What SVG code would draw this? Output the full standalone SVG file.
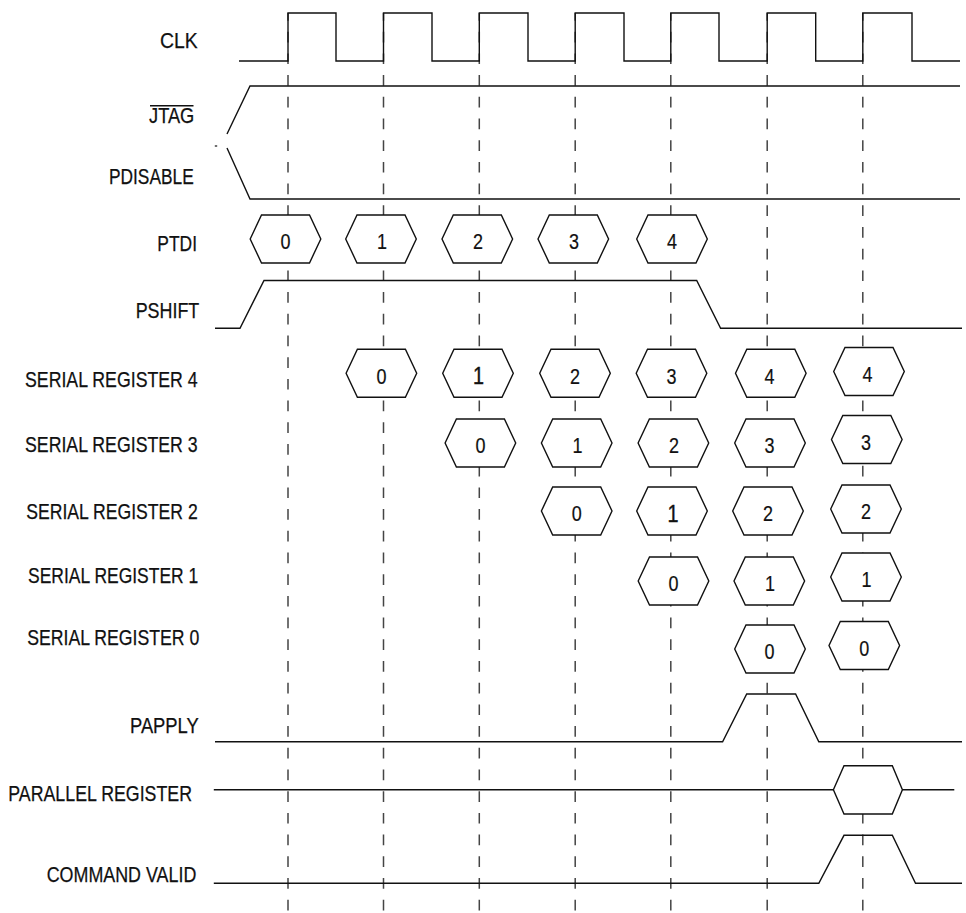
<svg xmlns="http://www.w3.org/2000/svg" width="966" height="913" viewBox="0 0 966 913">
<style>
  .bg { fill: #ffffff; }
  .lbl { font-family: "Liberation Sans", Arial, sans-serif; font-size: 21.5px; fill: #111; stroke: #111; stroke-width: 0.25; }
  .dig { font-family: "Liberation Sans", Arial, sans-serif; font-size: 21.5px; fill: #111; stroke: #111; stroke-width: 0.2; text-anchor: middle; }
  .big { font-size: 23px; stroke-width: 0.4; }
  .wave { fill: none; stroke: #111; stroke-width: 1.4; stroke-linejoin: miter; }
  .hex { fill: #ffffff; stroke: #111; stroke-width: 1.4; }
  .guide { stroke: #444; stroke-width: 1.5; stroke-dasharray: 10.7 11; stroke-dashoffset: 3; }
</style>
<defs>
  <polygon id="hx" points="-35.3,0 -24,-24 24,-24 35.3,0 24,24 -24,24"/>
</defs>
<rect class="bg" x="0" y="0" width="966" height="913"/>

<g id="connectors">
  <line class="guide" x1="288" y1="13" x2="288" y2="913"/>
  <line class="guide" x1="383.5" y1="13" x2="383.5" y2="913"/>
  <line class="guide" x1="479.3" y1="13" x2="479.3" y2="913"/>
  <line class="guide" x1="575.2" y1="13" x2="575.2" y2="913"/>
  <line class="guide" x1="670.8" y1="13" x2="670.8" y2="913"/>
  <line class="guide" x1="767.2" y1="13" x2="767.2" y2="913"/>
  <line class="guide" x1="862.8" y1="13" x2="862.8" y2="913"/>
</g>

<g id="clk">
  <text class="lbl" x="160" y="47.7" textLength="37.7" lengthAdjust="spacingAndGlyphs">CLK</text>
  <path class="wave" d="M239,61 H288 V13 H336 V61 H383.5 V13 H432 V61 H479.3 V13 H528 V61 H575.2 V13 H624 V61 H670.8 V13 H719 V61 H767.2 V13 H815.7 V61 H862.8 V13 H912 V61 H960"/>
</g>

<g id="jtag">
  <text class="lbl" x="149" y="123.3" textLength="45.3" lengthAdjust="spacingAndGlyphs">JTAG</text>
  <line x1="150" y1="105.7" x2="193.5" y2="105.7" stroke="#111" stroke-width="1.4"/>
  <path class="wave" d="M227,134 L250,86 H960"/>
</g>

<g id="pdisable">
  <text class="lbl" x="109" y="184.3" textLength="84.7" lengthAdjust="spacingAndGlyphs">PDISABLE</text>
  <path class="wave" d="M227,148 L250,199 H960"/>
  <line x1="214.8" y1="146" x2="217.2" y2="146" stroke="#111" stroke-width="1.2"/>
</g>

<g id="ptdi">
  <text class="lbl" x="157.3" y="250.7" textLength="39.7" lengthAdjust="spacingAndGlyphs">PTDI</text>
  <use href="#hx" class="hex" x="285.5" y="239"/>
  <use href="#hx" class="hex" x="381" y="239"/>
  <use href="#hx" class="hex" x="477.3" y="239"/>
  <use href="#hx" class="hex" x="573.3" y="239"/>
  <use href="#hx" class="hex" x="672" y="239"/>
  <text class="dig" x="285.5" y="249.3" textLength="10" lengthAdjust="spacingAndGlyphs">0</text>
  <text class="dig" x="382" y="249.3" textLength="10" lengthAdjust="spacingAndGlyphs">1</text>
  <text class="dig" x="478" y="249.3" textLength="10" lengthAdjust="spacingAndGlyphs">2</text>
  <text class="dig" x="574" y="249.3" textLength="10" lengthAdjust="spacingAndGlyphs">3</text>
  <text class="dig" x="672" y="249.3" textLength="10" lengthAdjust="spacingAndGlyphs">4</text>
</g>

<g id="pshift">
  <text class="lbl" x="135.7" y="317.7" textLength="63.6" lengthAdjust="spacingAndGlyphs">PSHIFT</text>
  <path class="wave" d="M215,328.3 H240 L264,280.5 H696.7 L720.6,328.3 H962"/>
</g>

<g id="sr4">
  <text class="lbl" x="25" y="386.7" textLength="172.7" lengthAdjust="spacingAndGlyphs">SERIAL REGISTER 4</text>
  <use href="#hx" class="hex" x="381.4" y="373.3"/>
  <use href="#hx" class="hex" x="478" y="373.3"/>
  <use href="#hx" class="hex" x="575" y="373.3"/>
  <use href="#hx" class="hex" x="671.5" y="373.3"/>
  <use href="#hx" class="hex" x="770.8" y="373.3"/>
  <use href="#hx" class="hex" x="869" y="371.5"/>
  <text class="dig" x="381.4" y="383.6" textLength="10" lengthAdjust="spacingAndGlyphs">0</text>
  <text class="dig big" x="478.5" y="384.2" textLength="11" lengthAdjust="spacingAndGlyphs">1</text>
  <text class="dig" x="575" y="383.6" textLength="10" lengthAdjust="spacingAndGlyphs">2</text>
  <text class="dig" x="671.5" y="383.6" textLength="10" lengthAdjust="spacingAndGlyphs">3</text>
  <text class="dig" x="769.5" y="383.6" textLength="10" lengthAdjust="spacingAndGlyphs">4</text>
  <text class="dig" x="867.5" y="381.8" textLength="10" lengthAdjust="spacingAndGlyphs">4</text>
</g>

<g id="sr3">
  <text class="lbl" x="25" y="451.7" textLength="172.7" lengthAdjust="spacingAndGlyphs">SERIAL REGISTER 3</text>
  <use href="#hx" class="hex" x="480.4" y="443"/>
  <use href="#hx" class="hex" x="576.7" y="443"/>
  <use href="#hx" class="hex" x="673.4" y="443"/>
  <use href="#hx" class="hex" x="770" y="443"/>
  <use href="#hx" class="hex" x="866.8" y="439.5"/>
  <text class="dig" x="480.4" y="453.3" textLength="10" lengthAdjust="spacingAndGlyphs">0</text>
  <text class="dig" x="577.5" y="453.3" textLength="10" lengthAdjust="spacingAndGlyphs">1</text>
  <text class="dig" x="674" y="453.3" textLength="10" lengthAdjust="spacingAndGlyphs">2</text>
  <text class="dig" x="769.5" y="453.3" textLength="10" lengthAdjust="spacingAndGlyphs">3</text>
  <text class="dig" x="866" y="449.8" textLength="10" lengthAdjust="spacingAndGlyphs">3</text>
</g>

<g id="sr2">
  <text class="lbl" x="26.3" y="519.3" textLength="171.4" lengthAdjust="spacingAndGlyphs">SERIAL REGISTER 2</text>
  <use href="#hx" class="hex" x="576.7" y="511"/>
  <use href="#hx" class="hex" x="672" y="511"/>
  <use href="#hx" class="hex" x="768" y="511"/>
  <use href="#hx" class="hex" x="866" y="509"/>
  <text class="dig" x="576.7" y="521.3" textLength="10" lengthAdjust="spacingAndGlyphs">0</text>
  <text class="dig big" x="673" y="521.8" textLength="11" lengthAdjust="spacingAndGlyphs">1</text>
  <text class="dig" x="768" y="521.3" textLength="10" lengthAdjust="spacingAndGlyphs">2</text>
  <text class="dig" x="866" y="519.3" textLength="10" lengthAdjust="spacingAndGlyphs">2</text>
</g>

<g id="sr1">
  <text class="lbl" x="28" y="583.3" textLength="170.3" lengthAdjust="spacingAndGlyphs">SERIAL REGISTER 1</text>
  <use href="#hx" class="hex" x="673.5" y="581"/>
  <use href="#hx" class="hex" x="769.3" y="581"/>
  <use href="#hx" class="hex" x="866" y="577"/>
  <text class="dig" x="673.5" y="591.3" textLength="10" lengthAdjust="spacingAndGlyphs">0</text>
  <text class="dig" x="770" y="591.3" textLength="10" lengthAdjust="spacingAndGlyphs">1</text>
  <text class="dig" x="866.5" y="587.3" textLength="10" lengthAdjust="spacingAndGlyphs">1</text>
</g>

<g id="sr0">
  <text class="lbl" x="27.3" y="645" textLength="172" lengthAdjust="spacingAndGlyphs">SERIAL REGISTER 0</text>
  <use href="#hx" class="hex" x="770" y="649"/>
  <use href="#hx" class="hex" x="864.3" y="645.5"/>
  <text class="dig" x="769.5" y="659.3" textLength="10" lengthAdjust="spacingAndGlyphs">0</text>
  <text class="dig" x="864.3" y="655.8" textLength="10" lengthAdjust="spacingAndGlyphs">0</text>
</g>

<g id="papply">
  <text class="lbl" x="130" y="732.7" textLength="68.7" lengthAdjust="spacingAndGlyphs">PAPPLY</text>
  <path class="wave" d="M215,741.7 H722.6 L746.7,694 H795.6 L818.8,741.7 H962"/>
</g>

<g id="parallel-register">
  <text class="lbl" x="8.3" y="800.7" textLength="183.7" lengthAdjust="spacingAndGlyphs">PARALLEL REGISTER</text>
  <path class="wave" d="M213.8,789.7 H833.4 M902.4,789.7 H954.3"/>
  <polygon class="hex" points="833.4,789.7 844,765.7 892.3,765.7 902.4,789.7 892.3,814 844,814"/>
</g>

<g id="command-valid">
  <text class="lbl" x="46.7" y="881.7" textLength="149.6" lengthAdjust="spacingAndGlyphs">COMMAND VALID</text>
  <path class="wave" d="M213.8,883.3 H818.8 L844,835.3 H892.3 L915.5,883.3 H962"/>
</g>
</svg>
